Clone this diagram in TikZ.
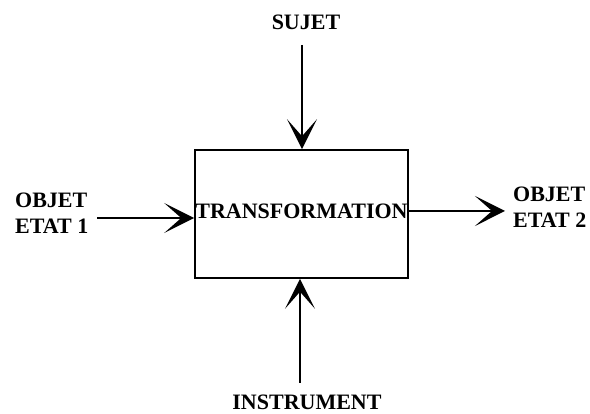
\documentclass[tikz,border=0pt]{standalone}
\usepackage{fontspec}
\setmainfont{Liberation Serif}
\usetikzlibrary{arrows.meta}
\begin{document}
\begin{tikzpicture}[x=1pt,y=1pt,
  lbl/.style={inner sep=0pt,font=\fontsize{22}{26}\selectfont\bfseries},
  conn/.style={line width=1.8pt,-{Stealth[length=30pt,width=30pt,inset=17pt]}}]
\useasboundingbox (0,0) rectangle (590,414);
\node[draw,line width=1.6pt,minimum width=213pt,minimum height=128pt,inner sep=0pt] (box) at (301.5,200) {};
\node[lbl] (tr) at (301.5,203) {TRANSFORMATION};
\node[lbl] (sujet) at (306,392) {SUJET};
\node[lbl] (instr) at (307,12) {INSTRUMENT};
\node[lbl,align=left,anchor=west] (o1) at (15,201) {OBJET\\ETAT 1};
\node[lbl,align=left,anchor=west] (o2) at (513,207) {OBJET\\ETAT 2};
\coordinate (ct) at (302,369);
\coordinate (cb) at (300,31);
\coordinate (cl) at (97,196);
\coordinate (cr) at (505,203);
\draw[conn] (ct) -- (ct |- box.north);
\draw[conn] (cb) -- (cb |- box.south);
\draw[conn] (cl) -- (cl -| box.west);
\draw[conn] (cr -| box.east) -- (cr);
\end{tikzpicture}
\end{document}
